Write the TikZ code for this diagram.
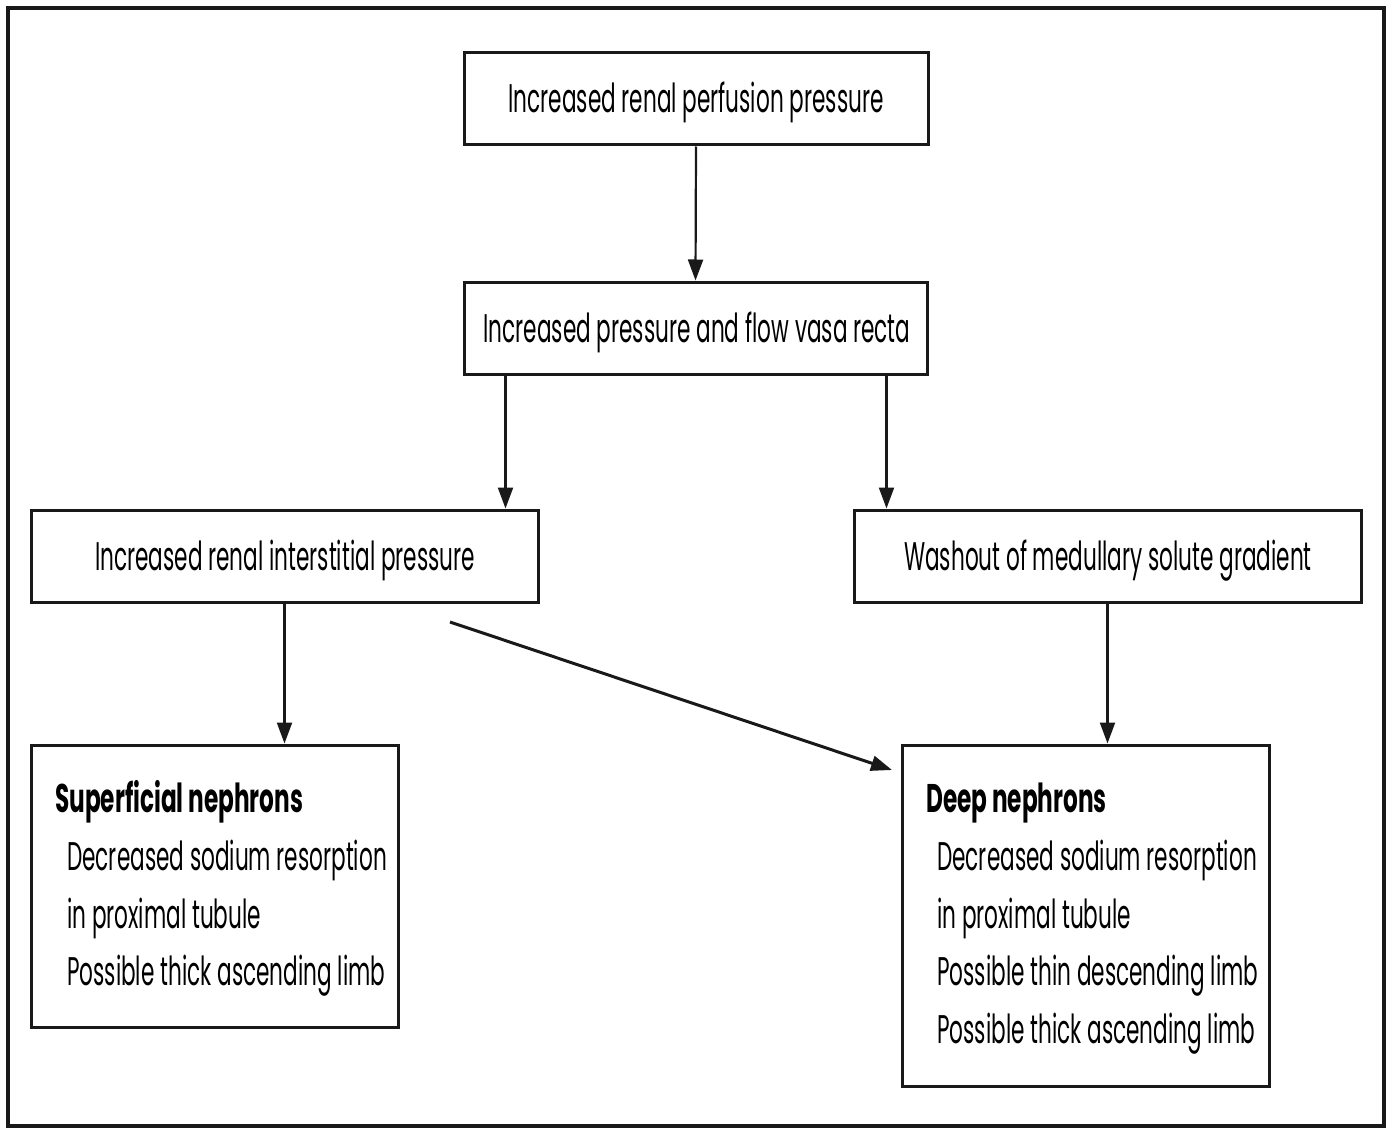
\documentclass[tikz,border=0pt]{standalone}
\usepackage{fontspec}
\setmainfont{Poppins}[FakeStretch=0.54, BoldFeatures={FakeStretch=0.58}]
\usetikzlibrary{arrows.meta,calc}
\begin{document}
\begin{tikzpicture}[x=1pt,y=-1pt,
  box/.style={draw=black!90, line width=3pt, rectangle, inner sep=0pt},
  arr/.style={draw=black!90, line width=2.2pt, -{Triangle[length=21pt,width=15pt]}},
  toptext/.style={font=\fontsize{40}{48}\selectfont, inner sep=0pt},
  bodytext/.style={font=\fontsize{40}{48}\selectfont, inner sep=0pt, anchor=base west},
  headtext/.style={font=\fontsize{40}{48}\selectfont\bfseries, inner sep=0pt, anchor=base west}]
  \useasboundingbox (0,0) rectangle (1392,1129);
  % outer frame
  \draw[line width=3.5pt, draw=black!90] (8,8) rectangle (1384,1126);

  % cause chain
  \node[box, minimum width=464pt, minimum height=92pt] (perf) at (696,99) {};
  \node[toptext, anchor=base] (perft) at (696,113) {Increased renal perfusion pressure};

  \node[box, minimum width=463pt, minimum height=92pt] (vasa) at (695.5,328) {};
  \node[toptext, anchor=base] (vasat) at (697,342) {Increased pressure and flow vasa recta};

  \node[box, minimum width=507pt, minimum height=92pt] (inter) at (284.5,556) {};
  \node[toptext, anchor=base] (intert) at (285,570) {Increased renal interstitial pressure};

  \node[box, minimum width=507pt, minimum height=92pt] (wash) at (1107.5,556) {};
  \node[toptext, anchor=base] (washt) at (1108,570) {Washout of medullary solute gradient};

  % outcome boxes
  \node[box, minimum width=367pt, minimum height=282pt] (sup) at (214.5,886) {};
  \node[headtext] (supa) at (55,812) {Superficial nephrons};
  \node[bodytext] (supb) at (67,870) {Decreased sodium resorption};
  \node[bodytext] (supc) at (67,928) {in proximal tubule};
  \node[bodytext] (supd) at (67,985) {Possible thick ascending limb};

  \node[box, minimum width=367pt, minimum height=341pt] (deep) at (1085.5,915.5) {};
  \node[headtext] (deepa) at (926,812) {Deep nephrons};
  \node[bodytext] (deepb) at (937,870) {Decreased sodium resorption};
  \node[bodytext] (deepc) at (937,928) {in proximal tubule};
  \node[bodytext] (deepd) at (937,985) {Possible thin descending limb};
  \node[bodytext] (deepe) at (937,1043) {Possible thick ascending limb};

  % connectors
  \draw[arr] (perf.south) -- (vasa.north);
  \draw[arr] ([xshift=43pt]vasa.south west) -- ([xshift=43pt]vasa.south west |- inter.north);
  \draw[arr] ([xshift=-42pt]vasa.south east) -- ([xshift=-42pt]vasa.south east |- wash.north);
  \draw[arr] (inter.south) -- (inter.south |- sup.north);
  \draw[arr] (wash.south) -- (wash.south |- deep.north);
  \coordinate (diagfrom) at (450,622);
  \coordinate (diagto) at (892,770);
  \draw[arr, line width=3pt] (diagfrom) -- (diagto);
\end{tikzpicture}
\end{document}
